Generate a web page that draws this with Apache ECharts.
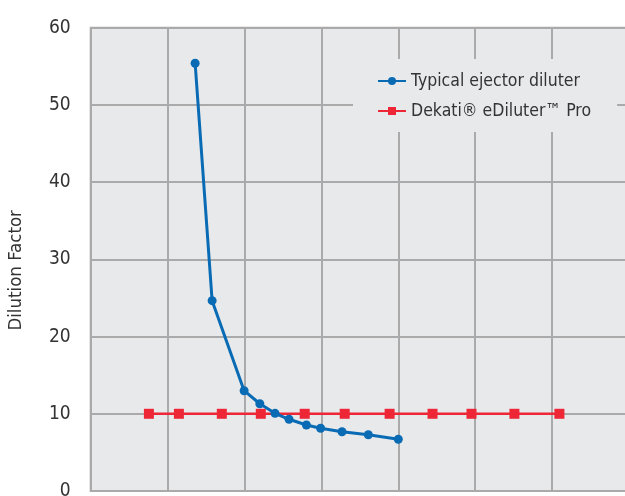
<!DOCTYPE html>
<html>
<head>
<meta charset="utf-8">
<script src="https://cdn.jsdelivr.net/npm/echarts@6/dist/echarts.min.js"></script>
<style>
html,body{margin:0;padding:0;background:#fff;}
#c{width:625px;height:496px;}
</style>
</head>
<body>
<div id="c"></div>
<script>
var ejectorX = [1.358, 1.579, 1.995, 2.199, 2.397, 2.579, 2.805, 2.99, 3.268, 3.61, 4.0];
var ejectorY = [55.4, 24.65, 12.99, 11.3, 10.06, 9.29, 8.55, 8.12, 7.68, 7.29, 6.70];
var eDiluterX = [0.757, 1.147, 1.705, 2.212, 2.783, 3.303, 3.887, 4.445, 4.952, 5.51, 6.095];
var eDiluterY = [10, 10, 10, 10, 10, 10, 10, 10, 10, 10, 10];
var yTicks = [0, 10, 20, 30, 40, 50, 60];
var seriesNames = ['Typical ejector diluter', 'Dekati\u00AE eDiluter\u2122 Pro'];
var yName = 'Dilution Factor';

function pairs(xs, ys) { return xs.map(function (x, i) { return [x, ys[i]]; }); }

var FONT = '"Liberation Sans Narrow", "DejaVu Sans Condensed", sans-serif';
var chart = echarts.init(document.getElementById('c'), null, { renderer: 'canvas' });
chart.setOption({
  animation: false,
  backgroundColor: '#ffffff',
  grid: {
    left: 90.7, top: 27.7, right: -4, bottom: 5,
    outerBoundsMode: 'none', containLabel: false,
    show: true, backgroundColor: '#e8e9eb', borderColor: '#aaaaaa', borderWidth: 2
  },
  legend: {
    data: seriesNames,
    orient: 'vertical',
    left: 353, top: 59,
    backgroundColor: '#e8e9eb',
    padding: [13, 26, 12, 24],
    itemWidth: 28, itemHeight: 10, itemGap: 12,
    textStyle: { fontFamily: FONT, fontSize: 17.5, color: '#333333' }
  },
  xAxis: {
    type: 'value', min: 0, max: 7, interval: 1,
    axisLine: { show: false }, axisTick: { show: false }, axisLabel: { show: false },
    splitLine: { show: true, lineStyle: { color: '#aaaaaa', width: 2 } }
  },
  yAxis: {
    type: 'value', min: yTicks[0], max: yTicks[yTicks.length - 1], interval: 10,
    name: yName, nameLocation: 'middle', nameGap: 65, nameRotate: 90,
    nameTextStyle: { fontFamily: FONT, fontSize: 18.5, color: '#333333', padding: [0, 22, 0, 0] },
    axisLine: { show: false }, axisTick: { show: false },
    axisLabel: { fontFamily: FONT, fontSize: 19, color: '#333333', margin: 20 },
    splitLine: { show: true, lineStyle: { color: '#aaaaaa', width: 2 } }
  },
  series: [
    {
      name: seriesNames[1], type: 'line', data: pairs(eDiluterX, eDiluterY),
      symbol: 'rect', symbolSize: 10,
      itemStyle: { color: '#ee2737' },
      lineStyle: { color: '#ee2737', width: 2.5 }, z: 2
    },
    {
      name: seriesNames[0], type: 'line', data: pairs(ejectorX, ejectorY),
      symbol: 'circle', symbolSize: 9,
      itemStyle: { color: '#0a6bb5' },
      lineStyle: { color: '#0a6bb5', width: 3 }, z: 3
    }
  ]
});
</script>
</body>
</html>
